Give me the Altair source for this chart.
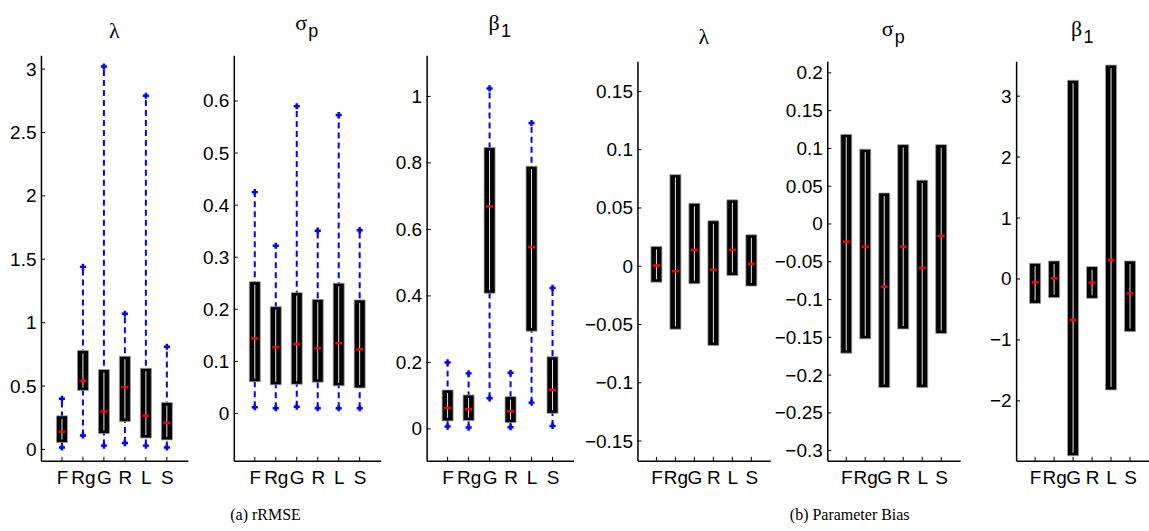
import altair as alt
import pandas as pd

METHODS = ["F", "Rg", "G", "R", "L", "S"]

# ---- (a) rRMSE ----
RMSE_LAM_LO = [0.015, 0.11, 0.03, 0.05, 0.03, 0.015]
RMSE_LAM_Q1 = [0.055, 0.465, 0.125, 0.22, 0.09, 0.075]
RMSE_LAM_MED = [0.14, 0.54, 0.30, 0.49, 0.265, 0.21]
RMSE_LAM_Q3 = [0.265, 0.78, 0.63, 0.735, 0.64, 0.37]
RMSE_LAM_HI = [0.40, 1.44, 3.02, 1.07, 2.79, 0.81]

RMSE_SIG_LO = [0.012, 0.010, 0.013, 0.010, 0.010, 0.010]
RMSE_SIG_Q1 = [0.061, 0.055, 0.056, 0.060, 0.053, 0.049]
RMSE_SIG_MED = [0.144, 0.127, 0.133, 0.125, 0.135, 0.123]
RMSE_SIG_Q3 = [0.253, 0.205, 0.232, 0.219, 0.250, 0.218]
RMSE_SIG_HI = [0.425, 0.322, 0.590, 0.351, 0.573, 0.352]

RMSE_BET_LO = [0.007, 0.004, 0.092, 0.005, 0.079, 0.009]
RMSE_BET_Q1 = [0.024, 0.025, 0.408, 0.019, 0.294, 0.047]
RMSE_BET_MED = [0.063, 0.059, 0.669, 0.053, 0.547, 0.117]
RMSE_BET_Q3 = [0.117, 0.102, 0.846, 0.097, 0.790, 0.217]
RMSE_BET_HI = [0.200, 0.167, 1.024, 0.169, 0.920, 0.424]

# ---- (b) Parameter bias ----
BIAS_LAM_Q1 = [-0.0137, -0.054, -0.015, -0.068, -0.008, -0.017]
BIAS_LAM_MED = [0.0006, -0.0043, 0.014, -0.003, 0.014, 0.002]
BIAS_LAM_Q3 = [0.017, 0.0786, 0.054, 0.039, 0.057, 0.027]

BIAS_SIG_Q1 = [-0.171, -0.152, -0.2165, -0.139, -0.2165, -0.145]
BIAS_SIG_MED = [-0.0234, -0.030, -0.083, -0.030, -0.058, -0.016]
BIAS_SIG_Q3 = [0.1186, 0.099, 0.041, 0.105, 0.058, 0.105]

BIAS_BET_Q1 = [-0.40, -0.306, -2.90, -0.317, -1.82, -0.863]
BIAS_BET_MED = [-0.055, 0.01, -0.672, -0.06, 0.311, -0.235]
BIAS_BET_Q3 = [0.257, 0.295, 3.26, 0.202, 3.51, 0.295]

TICKS_RMSE_LAM = [0, 0.5, 1, 1.5, 2, 2.5, 3]
TICKS_RMSE_SIG = [0, 0.1, 0.2, 0.3, 0.4, 0.5, 0.6]
TICKS_RMSE_BET = [0, 0.2, 0.4, 0.6, 0.8, 1]
TICKS_BIAS_LAM = [-0.15, -0.1, -0.05, 0, 0.05, 0.1, 0.15]
TICKS_BIAS_SIG = [-0.3, -0.25, -0.2, -0.15, -0.1, -0.05, 0, 0.05, 0.1, 0.15, 0.2]
TICKS_BIAS_BET = [-2, -1, 0, 1, 2, 3]

H = 406
SANS = "Liberation Sans"
SERIF = "Liberation Serif"
BLUE = "#0000ff"
LABEL_FS = 19


def panel(greek, sub, q1, med, q3, lo, hi, domain, ticks, width, inset):
    df = pd.DataFrame({"method": METHODS, "q1": q1, "med": med, "q3": q3})
    has_whisk = lo is not None
    if has_whisk:
        df["lo"] = lo
        df["hi"] = hi
    yscale = alt.Scale(domain=domain, range=[H, inset], nice=False, zero=False)
    xscale = alt.Scale(type="point", domain=METHODS, padding=1)
    yaxis = alt.Axis(title=None, values=ticks, format="~g", tickSize=0, labelPadding=5,
                     labelFont=SANS, labelFontSize=LABEL_FS, labelColor="black",
                     domainColor="black", domainWidth=1.5, grid=False)
    xaxis = alt.Axis(title=None, labelAngle=0, tickSize=0, labelPadding=8,
                     labelOverlap=False, labelFont=SANS, labelFontSize=LABEL_FS,
                     labelColor="black", domainColor="black", domainWidth=1.5, grid=False)

    def X():
        return alt.X("method:N", scale=xscale, sort=METHODS, axis=xaxis)

    def Y(f):
        return alt.Y(f, scale=yscale, axis=yaxis)

    base = alt.Chart(df)
    layers = []
    layers.append(
        alt.Chart(pd.DataFrame({"t": ticks})).mark_rule(color="black", strokeWidth=1)
        .encode(y=Y("t:Q"), x=alt.value(0), x2=alt.value(4))
    )
    layers.append(
        base.mark_rule(color="black", strokeWidth=1)
        .encode(x=X(), y=alt.value(H), y2=alt.value(H - 4))
    )
    if has_whisk:
        layers.append(
            base.mark_rule(color=BLUE, strokeWidth=2, strokeDash=[6, 4])
            .encode(x=X(), y=Y("lo:Q"), y2=alt.Y2("hi:Q"))
        )
    layers.append(
        base.mark_bar(size=11, color="black", stroke="#9a9a9a", strokeWidth=0.8)
        .encode(x=X(), y=Y("q1:Q"), y2=alt.Y2("q3:Q"))
    )
    layers.append(
        base.mark_rule(color="#e6e6e6", strokeWidth=1, yOffset=3, y2Offset=-3)
        .encode(x=X(), y=Y("q3:Q"), y2=alt.Y2("q1:Q"))
    )
    layers.append(
        base.mark_tick(color="#ff0000", size=7, thickness=2.5, orient="horizontal", opacity=1)
        .encode(x=X(), y=Y("med:Q"))
    )
    if has_whisk:
        layers.append(
            base.transform_fold(["lo", "hi"], as_=["k", "v"])
            .mark_point(shape="cross", filled=True, size=38, color=BLUE, opacity=1)
            .encode(x=X(), y=Y("v:Q"))
        )
    cx = width / 2
    if sub is None:
        layers.append(
            alt.Chart(pd.DataFrame({"t": [greek]})).mark_text(font=SERIF, fontSize=22, color="black")
            .encode(text="t:N", x=alt.value(cx), y=alt.value(inset - 24))
        )
    else:
        layers.append(
            alt.Chart(pd.DataFrame({"t": [greek]})).mark_text(font=SERIF, fontSize=22, color="black")
            .encode(text="t:N", x=alt.value(cx - 6), y=alt.value(inset - 32))
        )
        layers.append(
            alt.Chart(pd.DataFrame({"t": [sub]})).mark_text(font=SANS, fontSize=18, color="black")
            .encode(text="t:N", x=alt.value(cx + 6), y=alt.value(inset - 23))
        )
    return alt.layer(*layers).properties(width=width, height=H)


p1 = panel("λ", None, RMSE_LAM_Q1, RMSE_LAM_MED, RMSE_LAM_Q3, RMSE_LAM_LO, RMSE_LAM_HI,
           [-0.09, 3.11], TICKS_RMSE_LAM, 147, 0)
p2 = panel("σ", "p", RMSE_SIG_Q1, RMSE_SIG_MED, RMSE_SIG_Q3, RMSE_SIG_LO, RMSE_SIG_HI,
           [-0.091, 0.688], TICKS_RMSE_SIG, 147, 0)
p3 = panel("β", "1", RMSE_BET_Q1, RMSE_BET_MED, RMSE_BET_Q3, RMSE_BET_LO, RMSE_BET_HI,
           [-0.096, 1.124], TICKS_RMSE_BET, 147, 0)
p4 = panel("λ", None, BIAS_LAM_Q1, BIAS_LAM_MED, BIAS_LAM_Q3, None, None,
           [-0.167, 0.176], TICKS_BIAS_LAM, 133, 6)
p5 = panel("σ", "p", BIAS_SIG_Q1, BIAS_SIG_MED, BIAS_SIG_Q3, None, None,
           [-0.3135, 0.2155], TICKS_BIAS_SIG, 133, 6)
p6 = panel("β", "1", BIAS_BET_Q1, BIAS_BET_MED, BIAS_BET_Q3, None, None,
           [-2.984, 3.574], TICKS_BIAS_BET, 133, 6)

cap_style = dict(orient="bottom", anchor="middle", font=SERIF, fontSize=16,
                 fontWeight="normal", color="black", offset=19)

groupA = alt.hconcat(p1, p2, p3, spacing=14,
                     title=alt.TitleParams("(a) rRMSE", dx=-26, **cap_style))
groupB = alt.hconcat(alt.hconcat(p4, p5, spacing=3), p6, spacing=29,
                     title=alt.TitleParams("(b) Parameter Bias", dx=-17, **cap_style))

chart = alt.hconcat(groupA, groupB, spacing=10).properties(
    padding={"left": 9, "top": 12, "right": 0, "bottom": 0},
    background="white",
).configure_view(stroke=None)

chart.save("out.html", embed_options={"renderer": "svg", "actions": False})
